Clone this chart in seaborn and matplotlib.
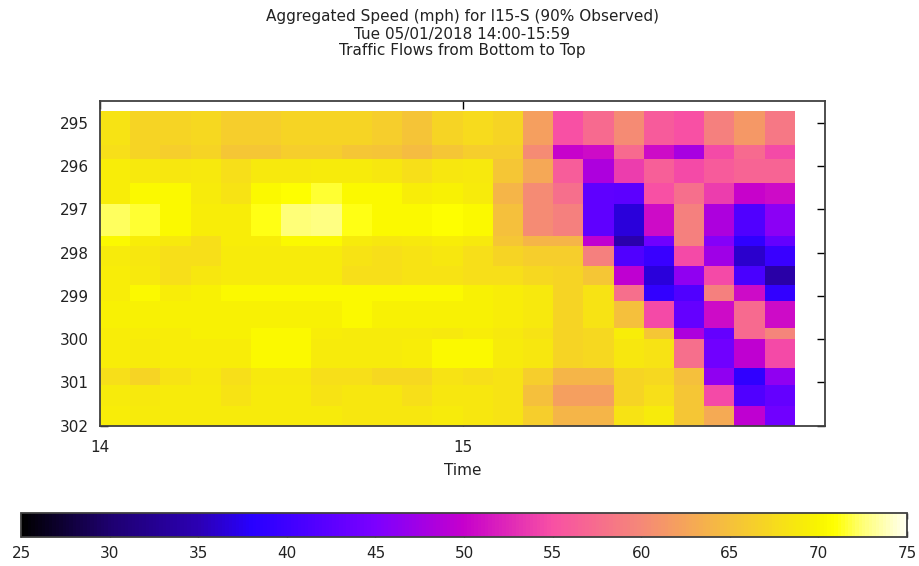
import numpy as np
import pandas as pd
import matplotlib
matplotlib.use("Agg")
import matplotlib.pyplot as plt
import seaborn as sns
from matplotlib.colors import LinearSegmentedColormap

# ---------------- data ----------------
title_lines = ["Aggregated Speed (mph) for I15-S (90% Observed)",
               "Tue 05/01/2018 14:00-15:59",
               "Traffic Flows from Bottom to Top"]

# segment boundaries (milepost), listed top to bottom
mile_edges = [294.73, 295.52, 295.84, 296.39, 296.88, 297.62, 297.85, 298.31,
              298.76, 299.12, 299.74, 299.99, 300.67, 301.07, 301.55, 302.05]

# 5-minute aggregation intervals (start times)
interval_starts = ["14:00", "14:05", "14:10", "14:15", "14:20", "14:25",
                   "14:30", "14:35", "14:40", "14:45", "14:50", "14:55",
                   "15:00", "15:05", "15:10", "15:15", "15:20", "15:25",
                   "15:30", "15:35", "15:40", "15:45", "15:50"]
interval_minutes = 5

# speed (mph) per segment, one list per segment (top to bottom)
seg01 = [68.3, 66.9, 66.9, 67.3, 66.3, 66.3, 66.9, 66.9, 66.9, 66.3, 65.4, 66.9, 67.5, 66.9, 62.1, 55.0, 57.3, 60.2, 55.9, 55.0, 59.3, 61.4, 58.5]
seg02 = [67.9, 66.9, 66.4, 66.9, 65.6, 65.6, 66.4, 66.4, 65.6, 65.4, 64.6, 65.6, 66.4, 66.3, 60.2, 50.0, 50.6, 57.3, 50.6, 47.9, 54.6, 57.3, 54.6]
seg03 = [69.3, 68.8, 68.6, 68.8, 67.9, 68.8, 68.8, 69.0, 69.0, 68.6, 67.9, 68.6, 68.8, 65.6, 62.8, 56.2, 48.4, 53.8, 56.4, 54.5, 55.9, 56.7, 56.7]
seg04 = [69.3, 70.5, 70.5, 69.0, 68.3, 70.5, 70.8, 71.5, 70.5, 70.5, 69.3, 69.7, 69.0, 63.9, 60.2, 57.8, 42.7, 42.4, 55.0, 57.8, 53.8, 50.0, 50.6]
seg05 = [72.2, 71.5, 70.5, 69.3, 69.3, 71.1, 72.5, 72.8, 71.1, 70.5, 70.5, 70.8, 70.5, 65.0, 60.2, 59.3, 42.7, 36.7, 50.6, 59.3, 48.4, 41.5, 46.0]
seg06 = [70.5, 69.3, 68.8, 67.9, 69.3, 69.3, 70.5, 70.5, 69.0, 68.6, 68.8, 69.3, 68.8, 65.6, 63.9, 63.9, 49.5, 34.5, 44.0, 59.3, 45.6, 38.7, 43.0]
seg07 = [69.0, 68.6, 67.9, 67.9, 69.0, 69.0, 69.0, 69.0, 68.3, 67.9, 68.3, 68.6, 67.9, 66.9, 66.3, 66.3, 59.3, 41.5, 39.5, 54.5, 47.4, 36.0, 39.5]
seg08 = [69.3, 68.8, 67.9, 68.6, 69.0, 69.0, 69.0, 69.0, 67.9, 67.9, 68.3, 68.3, 67.9, 67.9, 67.3, 66.9, 65.6, 49.5, 36.7, 46.3, 54.5, 41.0, 34.0]
seg09 = [69.3, 70.5, 69.3, 69.7, 70.5, 70.5, 70.5, 70.5, 70.5, 70.5, 70.5, 70.5, 69.7, 69.3, 68.8, 66.9, 68.3, 57.8, 39.0, 41.5, 59.3, 50.6, 39.0]
seg10 = [69.7, 69.7, 69.7, 69.7, 69.7, 69.7, 69.7, 69.7, 70.5, 69.7, 69.7, 69.7, 69.7, 69.3, 68.8, 66.9, 68.3, 65.0, 54.5, 43.0, 50.6, 57.3, 50.6]
seg11 = [69.3, 69.3, 69.3, 69.7, 69.7, 70.5, 70.5, 69.3, 69.0, 69.0, 69.0, 68.8, 69.3, 68.8, 68.3, 66.9, 67.3, 69.3, 65.6, 48.4, 43.0, 57.3, 59.6]
seg12 = [69.3, 69.0, 69.3, 69.3, 69.3, 70.5, 70.5, 69.0, 69.0, 69.0, 69.3, 70.5, 70.5, 69.0, 68.6, 66.9, 67.3, 68.6, 68.3, 57.8, 44.0, 49.5, 54.6]
seg13 = [67.9, 66.9, 68.3, 68.8, 67.9, 68.8, 68.8, 67.9, 67.9, 67.3, 67.3, 68.3, 67.9, 68.3, 66.4, 63.9, 63.9, 66.9, 67.3, 65.0, 46.3, 38.7, 46.3]
seg14 = [69.0, 68.8, 69.0, 69.0, 68.3, 69.0, 69.0, 68.3, 68.6, 68.6, 67.9, 68.6, 68.6, 68.3, 65.0, 62.1, 62.1, 66.9, 67.9, 65.6, 54.6, 41.5, 43.0]
seg15 = [69.3, 69.0, 69.0, 69.0, 69.0, 69.0, 69.0, 69.0, 68.6, 68.6, 68.6, 69.0, 68.6, 68.3, 66.4, 63.9, 63.9, 68.3, 69.0, 65.6, 63.0, 49.5, 44.0]

y_ticks = [295, 296, 297, 298, 299, 300, 301, 302]
x_ticks = [14, 15]
cbar_ticks = [25, 30, 35, 40, 45, 50, 55, 60, 65, 70, 75]
speed_min, speed_max = 25, 75

# ---------------- build table ----------------
segments = [seg01, seg02, seg03, seg04, seg05, seg06, seg07, seg08,
            seg09, seg10, seg11, seg12, seg13, seg14, seg15]
starts_h = [int(s[:2]) + int(s[3:]) / 60 for s in interval_starts]
step_h = interval_minutes / 60
time_edges = starts_h + [starts_h[-1] + step_h]

records = []
for i, row in enumerate(segments):
    mid_mile = (mile_edges[i] + mile_edges[i + 1]) / 2
    for j, v in enumerate(row):
        records.append({"hour": starts_h[j] + step_h / 2, "mile": mid_mile, "speed": v})
df = pd.DataFrame(records)

# ---------------- style ----------------
sns.set_theme(style="ticks")
plt.rcParams["font.family"] = ["DejaVu Sans"]
frame_col = "#404040"
text_col = "#222222"
fs = 11

stops = [(25, "#000000"), (30, "#1e0070"), (35, "#2c00b4"), (38, "#2800ff"),
         (40, "#3e00ff"), (45, "#7c00ff"), (50, "#c600cc"), (55, "#f850a4"),
         (60, "#f58878"), (65, "#f5c03c"), (70, "#f8f400"), (71, "#ffff00"),
         (72.5, "#ffff70"), (75, "#fffff0")]
cmap = LinearSegmentedColormap.from_list(
    "gp", [((v - 25) / 50, c) for v, c in stops])

fig = plt.figure(figsize=(9.2, 5.66), dpi=100)
ax = fig.add_axes([100 / 920, 1 - 425.7 / 566, 725 / 920, 324.7 / 566])
cax = fig.add_axes([21 / 920, 1 - 536.7 / 566, 886 / 920, 24 / 566])

sns.histplot(data=df, x="hour", y="mile", weights="speed",
             bins=[time_edges, mile_edges], cmap=cmap,
             vmin=speed_min, vmax=speed_max, ax=ax,
             cbar=True, cbar_ax=cax,
             cbar_kws={"orientation": "horizontal", "ticks": cbar_ticks})

ax.set_xlim(14, 16)
ax.set_ylim(302, 294.5)
ax.set_xticks(x_ticks)
ax.set_xticklabels([str(t) for t in x_ticks])
ax.set_yticks(y_ticks)
ax.set_yticklabels([str(t) for t in y_ticks])
ax.set_xlabel("Time", fontsize=fs, color=text_col, labelpad=6)
ax.set_ylabel("")
ax.tick_params(axis="both", direction="in", top=True, right=True,
               length=6, width=1, color="black", labelsize=fs,
               labelcolor=text_col)
ax.tick_params(axis="x", pad=10)
ax.tick_params(axis="y", pad=8)
for sp in ax.spines.values():
    sp.set_visible(True)
    sp.set_color(frame_col)
    sp.set_linewidth(1.3)

cax.tick_params(direction="in", length=4, width=1, color="black",
                labelsize=fs, labelcolor=text_col, pad=7,
                top=True, bottom=True)
for sp in cax.spines.values():
    sp.set_color(frame_col)
    sp.set_linewidth(1.3)
cax.set_xlim(speed_min, speed_max)

for line, ypx in zip(title_lines, [16, 34, 51]):
    fig.text(462.5 / 920, 1 - ypx / 566, line, ha="center", va="center",
             fontsize=fs, color=text_col)

fig.savefig("out.png", dpi=100)
